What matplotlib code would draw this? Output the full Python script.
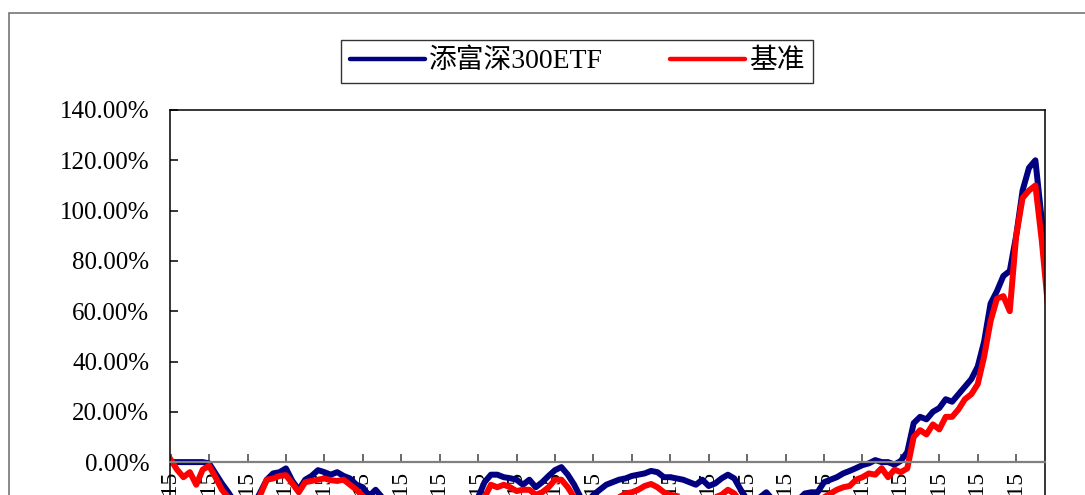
import matplotlib
matplotlib.use("Agg")
import matplotlib.pyplot as plt
import numpy as np
from matplotlib.lines import Line2D
from matplotlib.patches import Rectangle

plt.rcParams["font.family"] = ["Liberation Serif", "Noto Sans CJK SC"]

# cumulative return (%), one value per sample, equally spaced in time
fund = [
    0, 0, 0, 0, 0, 0, -0.5, -4.5, -8.5, -12,
    -16, -19, -20, -17, -12, -7, -4.5, -4, -2.5, -7.5,
    -11, -7, -5.5, -3.2, -4, -5, -4, -5.5, -6.5, -9,
    -10, -13.5, -11, -14, -18, -20, -21, -23, -22, -24,
    -25, -23, -24, -22, -20, -21, -18, -16, -14, -8,
    -5, -5, -6, -6.4, -7, -9, -7, -10, -8, -5.5,
    -3.2, -2, -5, -9, -14, -16, -13, -11, -9, -8,
    -7, -6.5, -5.5, -5, -4.5, -3.5, -4, -6, -6, -6.5,
    -7, -8, -9, -7, -9.5, -8.5, -6.5, -5, -6.5, -11,
    -15, -17, -14, -12, -15, -18, -20, -18, -15, -12.5,
    -12, -12, -8, -7, -6, -4.5, -3.5, -2.4, -1.2, -0.5,
    0.8, 0, 0, -1, 0.5, 4, 15.5, 18, 17, 20,
    21.5, 25, 24, 27, 30, 33, 38, 48, 63, 68,
    74, 76, 90, 108, 117, 120, 96, 76,
]
bench = [
    1, -3, -6, -4, -9, -3, -1.5, -6, -11, -14,
    -18, -21, -22, -19, -13, -7, -6.5, -5.5, -5.2, -8.5,
    -12, -8, -7.5, -7, -6.5, -7.2, -7.5, -7, -9, -11,
    -13.5, -15, -17, -18, -20, -22, -23, -24, -25, -24,
    -26, -27, -25, -26, -24, -22, -23, -20, -17, -14,
    -9, -10, -9, -10, -11.5, -11, -11, -13, -12, -10,
    -7, -7, -10, -14, -17, -19, -18, -17, -16, -15,
    -14, -12.5, -12, -11, -9.5, -8.7, -10, -12, -13, -13.5,
    -14, -15, -15, -14, -15, -14, -13, -11, -12.5, -16,
    -19, -21, -19, -17, -19, -22, -24, -22, -20, -18,
    -17, -16, -14, -12.5, -11, -10, -9.5, -7, -6, -4.5,
    -5, -2.4, -6, -3, -4, -2.5, 10, 12.7, 11, 15,
    13, 18, 18, 21, 25, 27, 31, 42, 56, 65,
    66, 60, 90, 105, 108, 110, 88, 61,
]
tick_labels = [
    "2011-10-15", "2011-12-15", "2012-02-15", "2012-04-15", "2012-06-15",
    "2012-08-15", "2012-10-15", "2012-12-15", "2013-02-15", "2013-04-15",
    "2013-06-15", "2013-08-15", "2013-10-15", "2013-12-15", "2014-02-15",
    "2014-04-15", "2014-06-15", "2014-08-15", "2014-10-15", "2014-12-15",
    "2015-02-15", "2015-04-15", "2015-06-15",
]
yticks = [0, 20, 40, 60, 80, 100, 120, 140]
series_names = ["添富深300ETF", "基准"]

W, H = 1085, 495
fig = plt.figure(figsize=(W / 100, H / 100), dpi=100)

# outer chart border (runs off the bottom/right of the image)
fig.patches.append(Rectangle((9 / W, -0.2), 1.2, 1 - 13 / H + 0.2,
                             transform=fig.transFigure, fill=False,
                             edgecolor="#6a6a6a", linewidth=1.1))

ymin, ymax = -40, 140
px_per_pct = 50.3 / 20
ax_h = (ymax - ymin) * px_per_pct
ax_top = 110
ax = fig.add_axes([170 / W, 1 - (ax_top + ax_h) / H, 875 / W, ax_h / H])

# category axis crosses at 0 (set before ticks: moving the spine resets them)
ax.spines["bottom"].set_position(("data", 0))
ax.spines["bottom"].set_color("#808080")
ax.spines["bottom"].set_linewidth(1.6)
for side in ["left", "top", "right"]:
    ax.spines[side].set_color("black")
    ax.spines[side].set_linewidth(1.1)

x = np.arange(len(fund))
ax.plot(x, fund, color="#000080", linewidth=4.3, solid_joinstyle="round")
ax.plot(x, bench, color="#ff0000", linewidth=4.3, solid_joinstyle="round")

step = 6
ax.set_xlim(-0.1, 136.5)
ax.set_ylim(ymin, ymax)
ax.set_xticks(np.arange(len(tick_labels)) * step)
ax.set_xticklabels(tick_labels, fontsize=17)
ax.set_yticks(yticks)
ax.set_yticklabels([f"{v:.2f}%" for v in yticks], fontsize=18)

ax.tick_params(axis="x", direction="in", length=6, width=1.1, color="#404040",
               pad=7, labelrotation=90)
ax.tick_params(axis="y", direction="in", length=6, width=1.1, color="black", pad=15)
for lbl in ax.get_xticklabels():
    lbl.set_va("top")
    lbl.set_ha("center")

handles = [Line2D([], [], color="#000080", linewidth=3.2, solid_capstyle="round"),
           Line2D([], [], color="#ff0000", linewidth=3.2, solid_capstyle="round")]
leg = fig.legend(handles, series_names, loc="center",
                 bbox_to_anchor=(577 / W, 1 - 61.5 / H), ncol=2, fontsize=20,
                 frameon=True, fancybox=False, edgecolor="black",
                 handlelength=2.7, handletextpad=0.15, columnspacing=2.4,
                 borderpad=0.3, borderaxespad=0)
leg.get_frame().set_linewidth(1.0)

fig.savefig("out.png", dpi=100)
